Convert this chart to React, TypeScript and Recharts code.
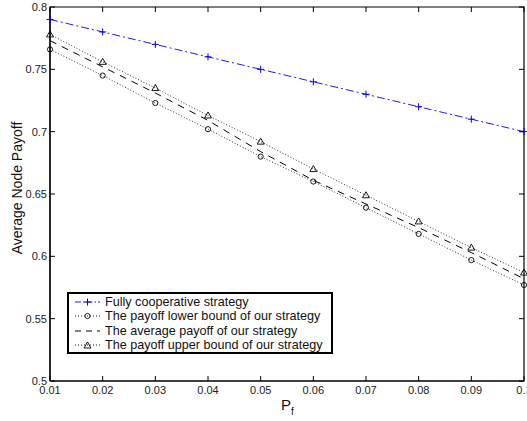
import React from "react";
import {
  LineChart,
  Line,
  XAxis,
  YAxis,
  ReferenceArea,
} from "recharts";

const pf = [0.01, 0.02, 0.03, 0.04, 0.05, 0.06, 0.07, 0.08, 0.09, 0.1];
const fullyCoop = [0.79, 0.78, 0.77, 0.76, 0.75, 0.74, 0.73, 0.72, 0.71, 0.7];
const lowerBound = [0.766, 0.745, 0.723, 0.702, 0.68, 0.66, 0.639, 0.618, 0.597, 0.577];
const average = [0.773, 0.752, 0.731, 0.709, 0.684, 0.661, 0.642, 0.623, 0.603, 0.582];
const upperBound = [0.778, 0.756, 0.735, 0.713, 0.692, 0.67, 0.649, 0.628, 0.607, 0.587];

const xTicks = [0.01, 0.02, 0.03, 0.04, 0.05, 0.06, 0.07, 0.08, 0.09, 0.1];
const yTicks = [0.5, 0.55, 0.6, 0.65, 0.7, 0.75, 0.8];

const data = pf.map((p, i) => ({
  p,
  coop: fullyCoop[i],
  lower: lowerBound[i],
  avg: average[i],
  upper: upperBound[i],
}));

const W = 527;
const H = 421;
const PLOT_W = 474;
const PLOT_H = 374;
const FONT = "'Liberation Sans', Arial, Helvetica, sans-serif";
const BLUE = "#0000ff";

const XTick = (props: any) => {
  const { x, y, payload } = props;
  return (
    <g>
      <line x1={x} y1={y} x2={x} y2={y - 5} stroke="#000" />
      <line x1={x} y1={y - PLOT_H} x2={x} y2={y - PLOT_H + 5} stroke="#000" />
      <text x={x} y={y + 13} textAnchor="middle" fontSize={11} fontFamily={FONT} fill="#222">
        {String(payload.value)}
      </text>
    </g>
  );
};

const YTick = (props: any) => {
  const { x, y, payload } = props;
  return (
    <g>
      <line x1={x} y1={y} x2={x + 5} y2={y} stroke="#000" />
      <line x1={x + PLOT_W} y1={y} x2={x + PLOT_W - 5} y2={y} stroke="#000" />
      <text x={x - 3} y={y + 4} textAnchor="end" fontSize={11} fontFamily={FONT} fill="#222">
        {String(payload.value)}
      </text>
    </g>
  );
};

const PlusDot = (props: any) => {
  const { cx, cy } = props;
  return (
    <g>
      <line x1={cx - 3.5} y1={cy} x2={cx + 3.5} y2={cy} stroke={BLUE} strokeWidth={1} />
      <line x1={cx} y1={cy - 3.5} x2={cx} y2={cy + 3.5} stroke={BLUE} strokeWidth={1} />
    </g>
  );
};

const CircleDot = (props: any) => {
  const { cx, cy } = props;
  return <circle cx={cx} cy={cy} r={2.6} fill="none" stroke="#000" strokeWidth={0.9} />;
};

const TriDot = (props: any) => {
  const { cx, cy } = props;
  return (
    <polygon
      points={`${cx},${cy - 3.5} ${cx - 3.5},${cy + 2.5} ${cx + 3.5},${cy + 2.5}`}
      fill="none"
      stroke="#000"
      strokeWidth={0.9}
    />
  );
};

const legendItems = [
  { label: "Fully cooperative strategy", color: BLUE, dash: "6 2 1.5 2", marker: "plus" },
  { label: "The payoff lower bound of our strategy", color: "#000", dash: "1 2", marker: "circle" },
  { label: "The average payoff of our strategy", color: "#000", dash: "6 5", marker: "none" },
  { label: "The payoff upper bound of our strategy", color: "#000", dash: "1 2", marker: "tri" },
];

const LegendBox = () => (
  <div
    style={{
      position: "absolute",
      left: 67,
      top: 292,
      width: 262,
      height: 57,
      border: "2px solid #000",
      background: "#fff",
      paddingTop: 1,
      fontFamily: FONT,
      fontSize: 12.6,
      color: "#111",
    }}
  >
    {legendItems.map((it) => (
      <div key={it.label} style={{ display: "flex", alignItems: "center", height: 14.3 }}>
        <svg width={36} height={14} style={{ flex: "none" }}>
          <line
            x1={6}
            y1={7}
            x2={31}
            y2={7}
            stroke={it.color}
            strokeWidth={it.marker === "none" ? 1.2 : 0.9}
            strokeDasharray={it.dash}
          />
          {it.marker === "plus" && <PlusDot cx={18.5} cy={7} />}
          {it.marker === "circle" && <CircleDot cx={18.5} cy={7} />}
          {it.marker === "tri" && <TriDot cx={18.5} cy={7.5} />}
        </svg>
        <span style={{ whiteSpace: "nowrap", lineHeight: "14px" }}>{it.label}</span>
      </div>
    ))}
  </div>
);

export default function App() {
  return (
    <div style={{ position: "absolute", left: 0, top: 0, width: W, height: H, background: "#fff" }}>
      <LineChart width={W} height={H} data={data} margin={{ top: 7, right: 3, left: 0, bottom: 0 }}>
        <XAxis
          dataKey="p"
          type="number"
          domain={[0.01, 0.1]}
          ticks={xTicks}
          tick={<XTick />}
          tickLine={false}
          tickSize={0}
          tickMargin={0}
          axisLine={{ stroke: "#000", strokeWidth: 1.2 }}
          height={40}
          interval={0}
        />
        <YAxis
          type="number"
          domain={[0.5, 0.8]}
          ticks={yTicks}
          tick={<YTick />}
          tickLine={false}
          tickSize={0}
          tickMargin={0}
          axisLine={{ stroke: "#000", strokeWidth: 1.2 }}
          width={50}
          interval={0}
        />
        <ReferenceArea x1={0.01} x2={0.1} y1={0.5} y2={0.8} fill="none" stroke="#000" strokeWidth={1.2} />
        <Line
          dataKey="coop"
          stroke={BLUE}
          strokeWidth={0.9}
          strokeDasharray="8 3 2 3"
          dot={<PlusDot />}
          isAnimationActive={false}
        />
        <Line
          dataKey="lower"
          stroke="#000"
          strokeWidth={0.8}
          strokeDasharray="1 2"
          dot={<CircleDot />}
          isAnimationActive={false}
        />
        <Line
          dataKey="avg"
          stroke="#000"
          strokeWidth={1}
          strokeDasharray="7 6"
          dot={false}
          isAnimationActive={false}
        />
        <Line
          dataKey="upper"
          stroke="#000"
          strokeWidth={0.8}
          strokeDasharray="1 2"
          dot={<TriDot />}
          isAnimationActive={false}
        />
      </LineChart>
      <svg width={W} height={H} style={{ position: "absolute", left: 0, top: 0, pointerEvents: "none" }}>
        <text
          transform="translate(22,188) rotate(-90)"
          textAnchor="middle"
          fontSize={14}
          fontFamily={FONT}
          fill="#111"
        >
          Average Node Payoff
        </text>
        <text x={281} y={410} fontSize={15} fontFamily={FONT} fill="#111">
          P
          <tspan fontSize={10} dy={5}>
            f
          </tspan>
        </text>
      </svg>
      <LegendBox />
    </div>
  );
}
